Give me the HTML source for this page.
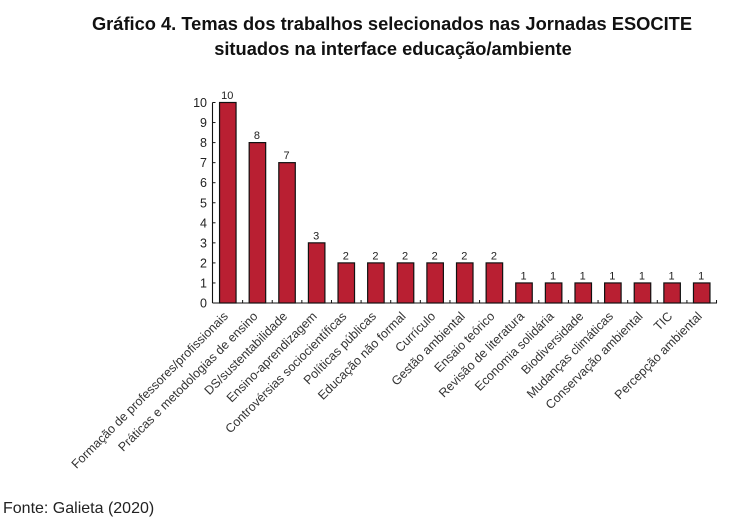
<!DOCTYPE html>
<html lang="pt">
<head>
<meta charset="utf-8">
<title>Gráfico 4</title>
<style>
html,body{margin:0;padding:0;background:#fff;}
body{width:729px;height:527px;overflow:hidden;position:relative;font-family:"Liberation Sans",sans-serif;color:#111;}
svg{position:absolute;left:0;top:0;}
text{font-family:"Liberation Sans",sans-serif;}
</style>
</head>
<body>
<svg id="chart" width="729" height="527" viewBox="0 0 729 527" xmlns="http://www.w3.org/2000/svg">
<text x="392" y="30" text-anchor="middle" font-size="18.3" font-weight="bold" fill="#111">Gráfico 4. Temas dos trabalhos selecionados nas Jornadas ESOCITE</text>
<text x="393" y="55" text-anchor="middle" font-size="18.3" font-weight="bold" fill="#111">situados na interface educação/ambiente</text>
<text x="3" y="513" font-size="16" fill="#222">Fonte: Galieta (2020)</text>
<g id="plot"></g>
</svg>
<script>
const categories = ["Formação de professores/profissionais","Práticas e metodologias de ensino","DS/sustentabilidade","Ensino-aprendizagem","Controvérsias sociocientíficas","Políticas públicas","Educação não formal","Currículo","Gestão ambiental","Ensaio teórico","Revisão de literatura","Economia solidária","Biodiversidade","Mudanças climáticas","Conservação ambiental","TIC","Percepção ambiental"];
const seriesValues = [10,8,7,3,2,2,2,2,2,2,1,1,1,1,1,1,1];
const yTicks = [0,1,2,3,4,5,6,7,8,9,10];

const NS = "http://www.w3.org/2000/svg";
const plot = document.getElementById("plot");
const X0 = 212.5, X1 = 717, Y0 = 303, Y10 = 102.5, FIRST = 227.8, PITCH = 29.62, BW = 16.5;
const yScale = v => Y0 - (v / 10) * (Y0 - Y10);
const xScale = i => FIRST + i * PITCH;
function mk(tag, attrs, text) {
  const e = document.createElementNS(NS, tag);
  for (const k in attrs) e.setAttribute(k, attrs[k]);
  if (text !== undefined) e.textContent = text;
  plot.appendChild(e);
  return e;
}
categories.forEach((c, i) => {
  const v = seriesValues[i], cx = xScale(i), top = yScale(v);
  const bar = mk("rect", {x: cx - BW / 2, y: top, width: BW, height: Y0 - top, fill: "#b91f32", stroke: "#111", "stroke-width": 1.2});
  
  
  const val = mk("text", {x: cx - 0.5, y: top - 3.5, "text-anchor": "middle", "font-size": 11, fill: "#222"}, String(v));
  
  
  const lx = cx + 1, ly = Y0 + 14;
  const lab = mk("text", {x: lx, y: ly, "text-anchor": "end", "font-size": 12.5, fill: "#333", transform: "rotate(-45 " + lx + " " + ly + ")"}, c);
  
  
  const tick = mk("line", {x1: cx + PITCH / 2, x2: cx + PITCH / 2, y1: Y0, y2: Y0 - 3, stroke: "#111", "stroke-width": 1});
  
  
});
yTicks.forEach(t => {
  const y = yScale(t);
  const tick = mk("line", {x1: X0, x2: X0 + 3, y1: y, y2: y, stroke: "#111", "stroke-width": 1});
  
  
  const lab = mk("text", {x: X0 - 5.5, y: y + 4.5, "text-anchor": "end", "font-size": 12.5, fill: "#222"}, String(t));
  
  
});
const yAxis = mk("line", {x1: X0, x2: X0, y1: Y10, y2: Y0, stroke: "#111", "stroke-width": 1.1});


const xAxis = mk("line", {x1: X0, x2: X1, y1: Y0, y2: Y0, stroke: "#111", "stroke-width": 1.1});


</script>
</body>
</html>
